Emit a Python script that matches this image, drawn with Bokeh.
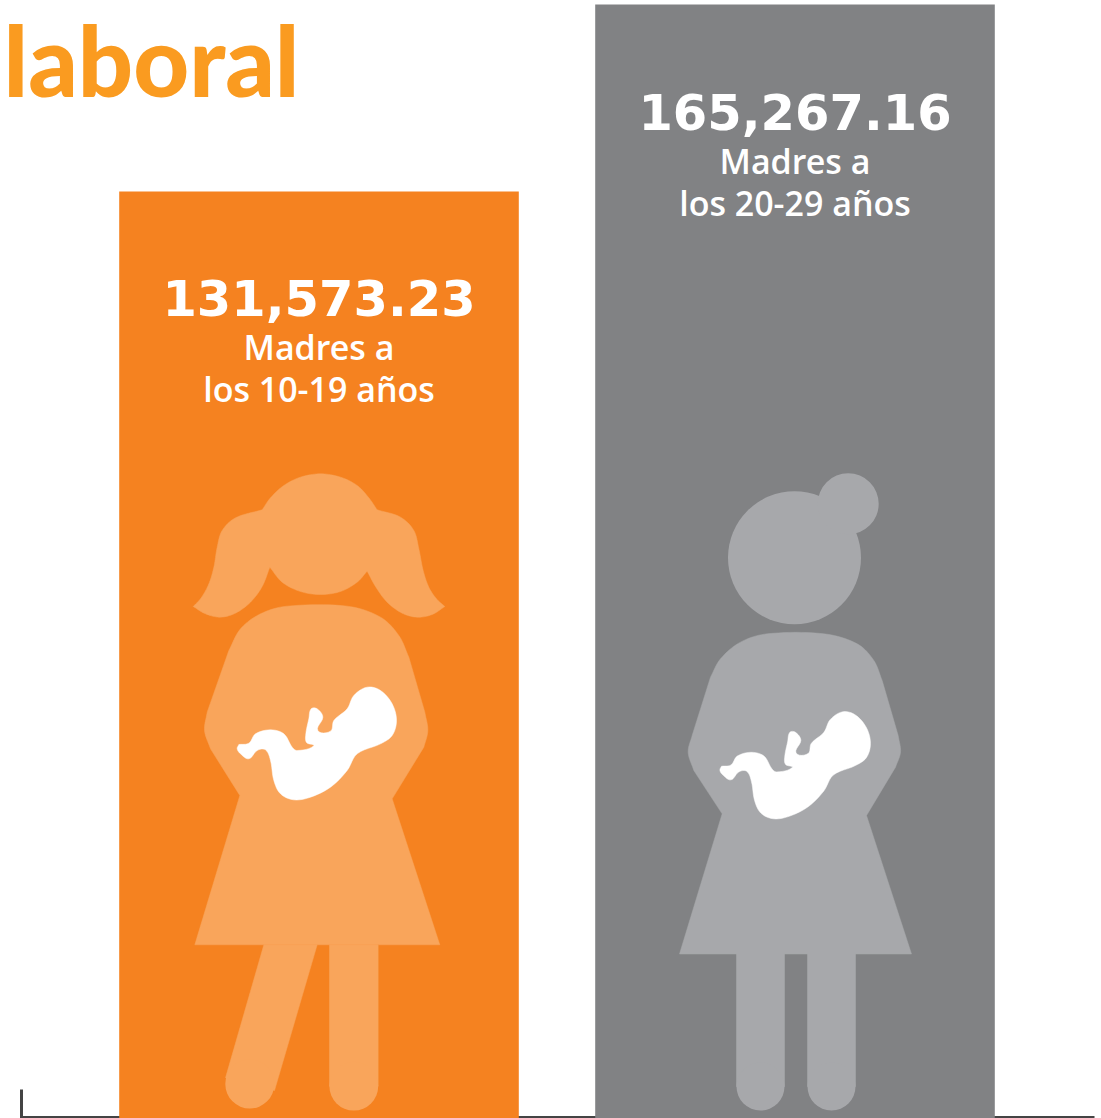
from math import hypot

from bokeh.plotting import figure
from bokeh.models import Range1d
from bokeh.core.properties import value
from bokeh.embed import file_html
from bokeh.resources import INLINE

# ---- data
categories = ["Madres a los 10-19 años", "Madres a los 20-29 años"]
values = [131573.23, 165267.16]
line_one = ["Madres a", "Madres a"]
line_two = ["los 10-19 años", "los 20-29 años"]
title_word = "laboral"
bar_colors = ["#F58220", "#818284"]
shape_colors = ["#F9A55B", "#A7A8AB"]

W, H = 1101, 1118
PER_PX = (values[1] - values[0]) / (191 - 4)   # value units per pixel on the page
y_end = values[1] + 4 * PER_PX
y_start = y_end - H * PER_PX
STEP = 476
x0 = -318.5 / STEP
x1 = (W - 318.5) / STEP

p = figure(width=W, height=H, x_range=Range1d(x0, x1), y_range=Range1d(y_start, y_end),
           output_backend="svg", toolbar_location=None, min_border=0,
           background_fill_color="white", border_fill_color="white")
p.axis.visible = False
p.grid.visible = False
p.outline_line_color = None
p.extra_x_ranges["px"] = Range1d(0, W)
p.extra_y_ranges["px"] = Range1d(H, 0)
PX = dict(x_range_name="px", y_range_name="px")


def smooth(pts, n=10):
    """Hermite curve through an open run, tangents scaled by each chord so it does not overshoot."""
    if len(pts) < 3:
        return list(pts)
    out = []
    P = [pts[0]] + list(pts) + [pts[-1]]

    def unit(u, v):
        d = hypot(v[0] - u[0], v[1] - u[1]) or 1.0
        return ((v[0] - u[0]) / d, (v[1] - u[1]) / d)

    for i in range(1, len(P) - 2):
        a, b, c, d = P[i - 1], P[i], P[i + 1], P[i + 2]
        L = hypot(c[0] - b[0], c[1] - b[1])
        ub, uc = unit(a, c), unit(b, d)
        for k in range(n):
            t = k / n
            h00 = 2 * t ** 3 - 3 * t ** 2 + 1
            h10 = t ** 3 - 2 * t ** 2 + t
            h01 = -2 * t ** 3 + 3 * t ** 2
            h11 = t ** 3 - t ** 2
            out.append(tuple(h00 * b[j] + h10 * L * ub[j] + h01 * c[j] + h11 * L * uc[j] for j in range(2)))
    out.append(pts[-1])
    return out


def path(*runs):
    out = []
    for r in runs:
        out += smooth(r)
    return out


def zoomed(pts, ox, oy):
    return [(ox + x / 3, oy + y / 3) for x, y in pts]


def fill(pts, color):
    p.patch([q[0] for q in pts], [q[1] for q in pts], fill_color=color, line_color=color,
            line_width=0.5, **PX)


def disc(cx, cy, r, color):
    p.circle(x=[cx], y=[cy], radius=r, fill_color=color, line_color=None, **PX)


# axis line under the bars
p.segment(x0=[21], y0=[1089], x1=[21], y1=[1118], line_color="#444444", line_width=3, **PX)
p.segment(x0=[20], y0=[1116.5], x1=[1094], y1=[1116.5], line_color="#444444", line_width=2, **PX)

# bars
p.vbar(x=[0, 1], top=values, bottom=y_start, width=399.6 / STEP, fill_color=bar_colors, line_color=None)

# ---- girl
c = shape_colors[0]
hair = zoomed(path(
    [(38, 438), (62, 412), (85, 370), (100, 320), (110, 260), (125, 210), (165, 172), (245, 148)],
    [(245, 148), (270, 112), (310, 75), (360, 50), (420, 40), (480, 50), (530, 75), (565, 112), (590, 148)],
    [(590, 148), (660, 170), (700, 210), (715, 265), (728, 330), (745, 380), (768, 415), (793, 438)],
    [(793, 438), (755, 462), (710, 470), (665, 458), (620, 425), (585, 378), (560, 332)],
    [(560, 332), (530, 365), (480, 393), (420, 402), (360, 393), (305, 365), (268, 320)],
    [(268, 320), (245, 378), (210, 425), (165, 458), (120, 470), (75, 460), (38, 438)],
), 180, 460)
fill(hair, c)
torso = zoomed(path(
    [(145, 570), (180, 505), (240, 460), (320, 437), (500, 437), (600, 470), (655, 525), (685, 590)],
    [(685, 590), (733, 755)],
    [(733, 755), (742, 810), (730, 860)],
    [(730, 860), (635, 1015)],
), 180, 460) + [(439.3, 944.3), (194.3, 944.3)] + zoomed(path(
    [(178, 1005), (90, 865)],
    [(90, 865), (72, 810), (80, 755)],
    [(80, 755), (145, 570)],
), 180, 460)
fill(torso, c)
leg_l = zoomed([(280, 433), (440, 433), (312, 870), (165, 832)], 170, 800)
fill(leg_l, c)
disc(249.3, 1083.5, 24.5, c)
fill(zoomed([(477, 433), (623, 433), (623, 857), (477, 857)], 170, 800), c)
disc(353.3, 1085.7, 24.4, c)

# ---- woman
c = shape_colors[1]
disc(794, 557.3, 66.5, c)
disc(847.7, 503.3, 30.5, c)
torso2 = zoomed(path(
    [(120, 650), (150, 595), (210, 545), (290, 520), (460, 520), (560, 550), (610, 600), (635, 660)],
    [(635, 660), (683, 825)],
    [(683, 825), (690, 875), (675, 920)],
    [(675, 920), (588, 1065)],
), 670, 460) + [(911, 953.5), (679, 953.5)] + zoomed(path(
    [(155, 1060), (70, 930)],
    [(70, 930), (53, 875), (65, 825)],
    [(65, 825), (120, 650)],
), 670, 460)
fill(torso2, c)
for lx in (736, 807):
    fill([(lx, 953), (lx + 48, 953), (lx + 48, 1086), (lx, 1086)], c)
    disc(lx + 24, 1086, 24, c)

# ---- babies
baby_outline = [(175, 852), (205, 848), (225, 820), (270, 808), (310, 820), (335, 860), (350, 870), (400, 856),
                (378, 846), (376, 820), (385, 775), (392, 745), (410, 745), (427, 770), (412, 810), (450, 812), (460, 780),
                (500, 745), (520, 705), (560, 680), (600, 690), (635, 730), (648, 780), (635, 825), (600, 850),
                (530, 880), (500, 930), (450, 980), (390, 1010), (340, 1018), (300, 1000), (280, 960), (270, 900),
                (255, 868), (230, 870), (205, 895), (180, 880), (170, 865), (175, 852)]
baby = zoomed(smooth(baby_outline, 6), 180, 460)
fill(baby, "white")
fill([(720 + (x - 237.3) * 0.945, 768.3 + (y - 746.7) * 0.95) for x, y in baby], "white")

# ---- texts (offsets make up for the way the svg text sits about 0.4em low)
WHITE = "white"
p.text(x=[0, 1], y=values, text=[f"{v:,.2f}" for v in values], y_offset=[106, 107],
       text_font=value("DejaVu Sans"), text_font_style="bold", text_font_size="49.5px",
       text_color=WHITE, text_align="center", text_baseline="alphabetic")
p.text(x=[0, 1], y=values, text=line_one, y_offset=[155, 156],
       text_font=value("Open Sans SemiBold"), text_font_size="34px",
       text_color=WHITE, text_align="center", text_baseline="alphabetic")
p.text(x=[0, 1], y=values, text=line_two, y_offset=[197, 198],
       text_font=value("Open Sans SemiBold"), text_font_size="34px",
       text_color=WHITE, text_align="center", text_baseline="alphabetic")
p.text(x=[3], y=[59], text=[title_word], text_font=value("Lato Black"),
       text_font_size="97px", text_color="#FA9B20", text_align="left", text_baseline="alphabetic", **PX)

open("out.html", "w").write(file_html(p, INLINE))
